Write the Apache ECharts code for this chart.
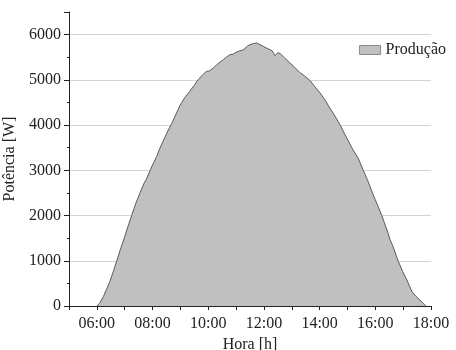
<!DOCTYPE html>
<html>
<head>
<meta charset="utf-8">
<script src="https://cdn.jsdelivr.net/npm/echarts@6/dist/echarts.min.js"></script>
<style>html,body{margin:0;padding:0;background:#fff}#c{width:456px;height:350px}</style>
</head>
<body>
<div id="c"></div>
<script>
const times = [
  "06:00","06:06","06:14","06:21","06:28","06:36","06:43","06:51","07:00","07:07",
  "07:15","07:24","07:33","07:42","07:46","07:55","08:00","08:09","08:15","08:23",
  "08:33","08:41","08:51","08:59","09:09","09:20","09:30","09:38","09:48","09:56",
  "10:03","10:11","10:18","10:25","10:33","10:39","10:47","10:54","11:00","11:05",
  "11:08","11:15","11:24","11:30","11:37","11:44","11:51","11:59","12:06","12:13",
  "12:18","12:24","12:30","12:35","12:45","12:56","13:06","13:17","13:27","13:39",
  "13:48","14:01","14:12","14:22","14:33","14:44","14:54","15:02","15:12","15:23",
  "15:34","15:45","15:55","16:06","16:14","16:27","16:32","16:38","16:49","16:59",
  "17:08","17:19","17:27","17:36","17:43","17:49"];
const power = [
  0,60,206,370,538,780,1000,1260,1530,1760,
  2000,2270,2500,2720,2790,3000,3120,3305,3470,3650,
  3870,4030,4250,4430,4600,4745,4880,5000,5110,5187,
  5200,5262,5330,5390,5450,5500,5557,5570,5610,5630,
  5600,5660,5740,5780,5800,5815,5780,5740,5700,5667,
  5640,5535,5600,5580,5480,5373,5280,5165,5090,4988,
  4870,4709,4550,4377,4200,4007,3800,3650,3450,3270,
  3000,2740,2470,2200,2000,1626,1461,1320,1000,760,
  575,317,220,133,60,0];
const seriesName = "Produção";
const xAxisName = "Hora [h]";
const yAxisName = "Potência [W]";

function toHours(t){const p=t.split(":");return +p[0]+(+p[1])/60;}
function fmt(h){return (h<10?"0":"")+h+":00";}
const data = times.map((t,i)=>[toHours(t),power[i]]);

const font = "'Liberation Serif','Times New Roman',serif";
const chart = echarts.init(document.getElementById('c'));
chart.setOption({
  animation:false,
  grid:{left:69,right:25,top:12,bottom:44,containLabel:false,outerBoundsMode:'none'},
  legend:{
    data:[{name:seriesName,icon:'rect',itemStyle:{color:'#c0c0c0',borderColor:'#8a8a8a',borderWidth:1}}],
    right:5, top:37, itemWidth:21, itemHeight:9, itemGap:5,
    textStyle:{fontFamily:font,fontSize:16,color:'#222'}
  },
  xAxis:{
    type:'value', min:5, max:18, interval:1,
    name:xAxisName, nameLocation:'middle', nameGap:30,
    nameTextStyle:{fontFamily:font,fontSize:16,color:'#222'},
    axisLine:{lineStyle:{color:'#222',width:1}},
    axisTick:{show:true,length:4,lineStyle:{color:'#222'}},
    axisLabel:{fontFamily:font,fontSize:16,color:'#222',margin:10,
      formatter:function(v){return (v%2===0)?fmt(v):'';}},
    splitLine:{show:false}
  },
  yAxis:{
    type:'value', min:0, max:6500, interval:1000,
    name:yAxisName, nameLocation:'middle', nameGap:50,
    nameTextStyle:{fontFamily:font,fontSize:16,color:'#222'},
    axisLine:{show:true,lineStyle:{color:'#222',width:1}},
    axisTick:{show:true,length:5,lineStyle:{color:'#222'}},
    minorTick:{show:true,splitNumber:2,length:2,lineStyle:{color:'#222'}},
    axisLabel:{fontFamily:font,fontSize:16,color:'#222',margin:8,showMaxLabel:false,
      formatter:function(v){return String(v);}},
    splitLine:{show:true,showMinLine:false,showMaxLine:false,lineStyle:{color:'#d4d4d4',width:1}}
  },
  series:[{
    name:seriesName, type:'line', data:data, showSymbol:false, symbol:'none',
    lineStyle:{color:'#5a5a5a',width:1},
    itemStyle:{color:'#c0c0c0',borderColor:'#8a8a8a',borderWidth:1},
    areaStyle:{color:'#c0c0c0',opacity:1}
  }]
});
</script>
</body>
</html>
